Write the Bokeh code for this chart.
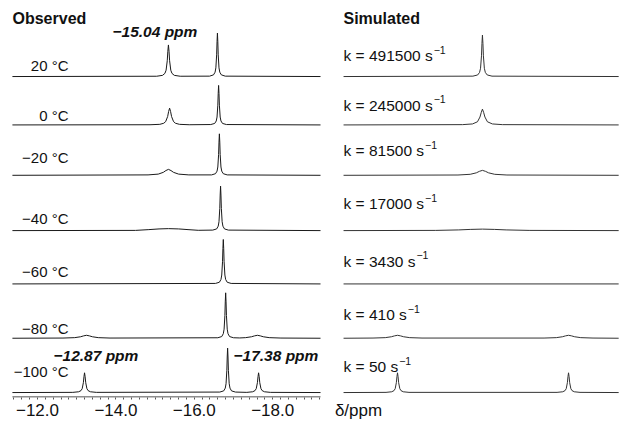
import numpy as np
from bokeh.plotting import figure
from bokeh.models import Range1d, FixedTicker
from bokeh.core.properties import value
from bokeh.embed import file_html
from bokeh.resources import INLINE

# ------------------------------------------------------------------ data
temps = ["20 °C", "0 °C", "\u221220 °C", "\u221240 °C", "\u221260 °C", "\u221280 °C", "\u2212100 °C"]
rates = ["491500", "245000", "81500", "17000", "3430", "410", "50"]
ticks = [-12, -14, -16, -18]
tick_labels = ["\u221212.0", "\u221214.0", "\u221216.0", "\u221218.0"]
unit_label = "\u03b4/ppm"
shift_labels = ["\u221215.04 ppm", "\u221212.87 ppm", "\u221217.38 ppm"]

# observed spectra: chemical shift (ppm) / intensity
obs_20_x = [-11.36,
            -15.04, -15.19, -15.25, -15.28, -15.31, -15.325, -15.34, -15.355, -15.37, -15.40, -15.43, -15.49, -15.64,
            -16.39, -16.49, -16.53, -16.55, -16.57, -16.58, -16.59, -16.60, -16.61, -16.63, -16.65, -16.69, -16.79,
            -19.22]
obs_20_y = [0,
            0.3, 1.2, 3.2, 6.4, 16, 25.6, 32, 25.6, 16, 6.4, 3.2, 1.2, 0.3,
            0.4, 1.7, 4.4, 8.8, 22, 35.2, 44, 35.2, 22, 8.8, 4.4, 1.7, 0.4,
            0]
obs_0_x = [-11.36,
           -14.87, -15.12, -15.22, -15.27, -15.32, -15.345, -15.37, -15.395, -15.42, -15.47, -15.52, -15.62, -15.87,
           -16.42, -16.52, -16.56, -16.58, -16.60, -16.61, -16.62, -16.63, -16.64, -16.66, -16.68, -16.72, -16.82,
           -19.22]
obs_0_y = [0,
           0.2, 0.6, 1.7, 3.4, 8.5, 13.6, 17, 13.6, 8.5, 3.4, 1.7, 0.6, 0.2,
           0.4, 1.5, 4, 8, 20, 32, 40, 32, 20, 8, 4, 1.5, 0.4,
           0]
obs_m20_x = [-11.36,
             -14.82, -15.08, -15.21, -15.275, -15.34, -15.405, -15.47, -15.60, -15.86,
             -16.44, -16.54, -16.58, -16.60, -16.62, -16.63, -16.64, -16.65, -16.66, -16.68, -16.70, -16.74, -16.84,
             -19.22]
obs_m20_y = [0,
             0.4, 1.2, 3, 4.8, 6, 4.8, 3, 1.2, 0.4,
             0.4, 1.6, 4.2, 8.4, 21, 33.6, 42, 33.6, 21, 8.4, 4.2, 1.6, 0.4,
             0]
obs_m40_x = [-11.36,
             -14.50, -14.84, -15.10, -15.34, -15.60, -15.84, -16.10,
             -16.47, -16.57, -16.61, -16.63, -16.65, -16.66, -16.67, -16.68, -16.69, -16.71, -16.73, -16.77, -16.87,
             -19.22]
obs_m40_y = [0,
             0.2, 1.0, 1.7, 2.0, 1.7, 1.0, 0.3,
             0.5, 1.7, 4.5, 9, 22.5, 36, 45, 36, 22.5, 9, 4.5, 1.7, 0.5,
             0]
obs_m60_x = [-11.36,
             -16.54, -16.64, -16.68, -16.70, -16.72, -16.73, -16.74, -16.75, -16.76, -16.78, -16.80, -16.84, -16.94,
             -19.22]
obs_m60_y = [0,
             0.5, 1.7, 4.5, 9, 22.5, 36, 45, 36, 22.5, 9, 4.5, 1.7, 0.5,
             0]
obs_m80_x = [-11.36,
             -12.65, -12.95, -13.10, -13.175, -13.25, -13.325, -13.40, -13.55, -13.85,
             -16.60, -16.70, -16.74, -16.76, -16.78, -16.79, -16.80, -16.81, -16.82, -16.84, -16.86, -16.90, -17.00,
             -17.16, -17.31, -17.46, -17.535, -17.61, -17.685, -17.76, -17.91, -18.21,
             -19.22]
obs_m80_y = [0,
             0.2, 0.6, 1.5, 2.4, 3, 2.4, 1.5, 0.6, 0.2,
             0.5, 1.7, 4.6, 9.2, 23, 36.8, 46, 36.8, 23, 9.2, 4.6, 1.7, 0.5,
             0.3, 0.6, 1.5, 2.4, 3, 2.4, 1.5, 0.6, 0.2,
             0]
obs_m100_x = [-11.36,
              -12.90, -13.05, -13.11, -13.14, -13.17, -13.185, -13.20, -13.215, -13.23, -13.26, -13.29, -13.35, -13.50,
              -16.65, -16.75, -16.79, -16.81, -16.83, -16.84, -16.85, -16.86, -16.87, -16.89, -16.91, -16.95, -17.05,
              -17.34, -17.49, -17.55, -17.58, -17.61, -17.625, -17.64, -17.655, -17.67, -17.70, -17.73, -17.79, -17.94,
              -19.22]
obs_m100_y = [0,
              0.2, 0.8, 2, 4, 10, 16, 20, 16, 10, 4, 2, 0.8, 0.2,
              0.5, 1.7, 4.5, 9, 22.5, 36, 45, 36, 22.5, 9, 4.5, 1.7, 0.5,
              0.2, 0.8, 2, 4, 10, 16, 20, 16, 10, 4, 2, 0.8, 0.2,
              0]

# simulated spectra: chemical shift (ppm) / intensity
sim_491500_x = [-11.79,
                -15.17, -15.295, -15.345, -15.37, -15.395, -15.4075, -15.42, -15.4325, -15.445, -15.47, -15.495,
                -15.545, -15.67,
                -18.98]
sim_491500_y = [0,
                0.4, 1.6, 4.2, 8.4, 21, 33.6, 42, 33.6, 21, 8.4, 4.2, 1.6, 0.4,
                0]
sim_245000_x = [-11.79, -14.90, -15.16, -15.29, -15.355, -15.39, -15.42, -15.45, -15.485, -15.55, -15.68, -15.94,
                -18.98]
sim_245000_y = [0, 0.3, 1, 3.2, 8, 12.8, 16, 12.8, 8, 3.2, 1, 0.3, 0]
sim_81500_x = [-11.79, -14.78, -15.10, -15.26, -15.34, -15.42, -15.50, -15.58, -15.74, -16.06, -18.98]
sim_81500_y = [0, 0.3, 1, 2.5, 4, 5, 4, 2.5, 1, 0.3, 0]
sim_17000_x = [-11.79, -14.20, -14.80, -15.10, -15.42, -15.74, -16.04, -16.64, -18.98]
sim_17000_y = [0, 0.2, 0.7, 1.2, 1.5, 1.2, 0.7, 0.2, 0]
sim_3430_x = [-11.79, -18.98]
sim_3430_y = [0, 0]
sim_410_x = [-11.79,
             -12.56, -12.88, -13.04, -13.12, -13.20, -13.28, -13.36, -13.52, -13.84,
             -17.03, -17.35, -17.51, -17.59, -17.67, -17.75, -17.83, -17.99, -18.31,
             -18.98]
sim_410_y = [0,
             0.2, 0.6, 1.5, 2.4, 3, 2.4, 1.5, 0.6, 0.2,
             0.2, 0.6, 1.5, 2.4, 3, 2.4, 1.5, 0.6, 0.2,
             0]
sim_50_x = [-11.79,
            -12.90, -13.05, -13.11, -13.14, -13.17, -13.185, -13.20, -13.215, -13.23, -13.26, -13.29, -13.35, -13.50,
            -17.37, -17.52, -17.58, -17.61, -17.64, -17.655, -17.67, -17.685, -17.70, -17.73, -17.76, -17.82, -17.97,
            -18.98]
sim_50_y = [0,
            0.2, 0.8, 2, 4, 10, 16, 20, 16, 10, 4, 2, 0.8, 0.2,
            0.2, 0.8, 2, 4, 10, 16, 20, 16, 10, 4, 2, 0.8, 0.2,
            0]

observed = [(obs_20_x, obs_20_y), (obs_0_x, obs_0_y), (obs_m20_x, obs_m20_y), (obs_m40_x, obs_m40_y),
            (obs_m60_x, obs_m60_y), (obs_m80_x, obs_m80_y), (obs_m100_x, obs_m100_y)]
simulated = [(sim_491500_x, sim_491500_y), (sim_245000_x, sim_245000_y), (sim_81500_x, sim_81500_y),
             (sim_17000_x, sim_17000_y), (sim_3430_x, sim_3430_y), (sim_410_x, sim_410_y),
             (sim_50_x, sim_50_y)]

# ------------------------------------------------------------------ layout (reference pixel grid)
ROW_BASE = [77, 126, 177, 233, 287, 342, 397]
TEMP_Y = [66, 116, 159, 221, 274, 332, 376]
K_Y = [56, 106, 152, 206, 264, 318, 371]
AXIS_SPAN = (-11.36, -19.22)
UNIT_POS = -20.19
FONT = value("Liberation Sans")
INK = "#1a1a1a"
TXT = "#111111"

p = figure(width=619, height=422, output_backend="svg", toolbar_location=None,
           x_range=Range1d(-11.056, -26.847), y_range=Range1d(402, 0),
           min_border=0, y_axis_location=None)
p.extra_x_ranges = {"sim": Range1d(-2.824, -19.002), "px": Range1d(0, 619)}
p.grid.visible = False
p.outline_line_color = None
p.background_fill_color = "white"
p.border_fill_color = "white"

ax = p.xaxis[0]
minor = [round(-11.4 - 0.2 * i, 1) for i in range(40)]
ax.ticker = FixedTicker(ticks=ticks + [UNIT_POS], minor_ticks=minor)
overrides = dict(zip(ticks, tick_labels))
overrides[UNIT_POS] = unit_label
ax.major_label_overrides = overrides
ax.bounds = (AXIS_SPAN[0], UNIT_POS - 0.3)
ax.axis_line_color = None
ax.major_tick_in = 0
ax.major_tick_out = 0
ax.minor_tick_in = 0
ax.minor_tick_out = 2
ax.minor_tick_line_color = "#555555"
ax.major_label_standoff = 1
ax.major_label_text_font = "Liberation Sans"
ax.major_label_text_font_size = "17px"
ax.major_label_text_color = TXT

# axis base line drawn over the left (observed) span only
p.line(list(AXIS_SPAN), [401.5, 401.5], line_color=INK, line_width=1)

for (xs, ys), base in zip(observed, ROW_BASE):
    p.line(xs, base - np.array(ys, dtype=float), line_color=INK, line_width=1)
for (xs, ys), base in zip(simulated, ROW_BASE):
    p.line(xs, base - np.array(ys, dtype=float), line_color="#333333", line_width=1,
           x_range_name="sim")

# row labels
p.text(x=[68] * 7, y=TEMP_Y, text=temps, x_range_name="px", text_align="right",
       text_baseline="middle", text_font=FONT, text_font_size="15px", text_color=TXT)
k_text = ["k = %s s" % r for r in rates]
p.text(x=[343] * 7, y=K_Y, text=k_text, x_range_name="px", text_align="left",
       text_baseline="middle", text_font=FONT, text_font_size="15.5px", text_color=TXT)
sup_x = [343 + 15.5 * (2.418 + 0.556 * len(r)) + 1 for r in rates]
p.text(x=sup_x, y=[k - 6 for k in K_Y], text=["\u22121"] * 7, x_range_name="px",
       text_align="left", text_baseline="middle", text_font=FONT, text_font_size="10.5px",
       text_color=TXT)

# titles
p.text(x=[12, 343], y=[18, 18], text=["Observed", "Simulated"], x_range_name="px",
       text_align="left", text_baseline="middle", text_font=FONT, text_font_size="16px",
       text_font_style="bold", text_color=TXT)

# shift annotations
p.text(x=[112, 53, 233], y=[31, 359, 359], text=shift_labels, x_range_name="px",
       text_align="left", text_baseline="middle", text_font=FONT, text_font_size="15.5px",
       text_font_style="bold italic", text_color=TXT)

open("out.html", "w").write(file_html(p, INLINE))
